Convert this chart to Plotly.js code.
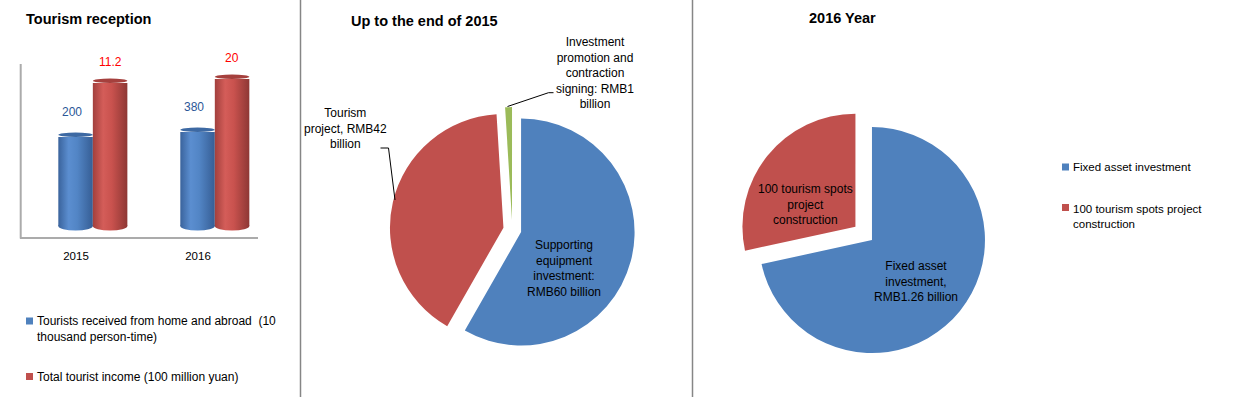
<!DOCTYPE html>
<html>
<head>
<meta charset="utf-8">
<script src="https://cdn.plot.ly/plotly-3.0.1.min.js"></script>
<style>
html,body{margin:0;padding:0;background:#fff;}
#chart{width:1239px;height:397px;}
</style>
</head>
<body>
<div id="chart"></div>
<script>
// ---------------- data ----------------
const years = ['2015', '2016'];
const touristsSeries = 'Tourists received from home and abroad  (10 thousand person-time)';
const incomeSeries = 'Total tourist income (100 million yuan)';
const tourists = [200, 380];      // 10 thousand person-time
const income = [11.2, 20];        // 100 million yuan

const invest2015Labels = ['Supporting equipment investment', 'Tourism project', 'Investment promotion and contraction signing'];
const invest2015Values = [60, 42, 1];   // RMB billion

const invest2016Labels = ['Fixed asset investment', '100 tourism spots project construction'];
const invest2016Values = [1.26, 0.5];   // RMB billion (second value)

const titles = ['Tourism reception', 'Up to the end of 2015', '2016 Year'];

// ---------------- helpers ----------------
const FONT = 'Liberation Sans, Arial, sans-serif';
const W = 1239, H = 397;
const px = v => v / W;
const py = v => 1 - v / H;
const blue = '#4F81BD', red = '#C0504D', green = '#9BBB59';

function wrap(text, maxChars) {
  const words = text.split(' ');
  const lines = [];
  let cur = '';
  words.forEach(w => {
    const cand = cur === '' ? w : cur + ' ' + w;
    if (cand.length > maxChars && cur !== '') { lines.push(cur); cur = w; }
    else cur = cand;
  });
  if (cur !== '') lines.push(cur);
  return lines.map(l => l.replace(/  /g, ' \u00a0')).join('<br>');
}
function pieDomain(cx, cy, r, pull) {
  const h = r * (1 + pull);
  return { x: [px(cx - h), px(cx + h)], y: [py(cy + h), py(cy - h)] };
}

// ---------------- left: cylinder bars ----------------
const barW = 0.283;
const offs = [-0.145, 0.138];
const xi = years.map((_, i) => i);
const series = [
  { name: touristsSeries, values: tourists, color: blue, cap: '#3D69A3', yref: 'y', labelColor: '#2B5797', dx: -4, dy: 25 },
  { name: incomeSeries, values: income, color: red, cap: '#A5403D', yref: 'y2', labelColor: '#FF0000', dx: 0, dy: 21 }
];

const traces = series.map((s, k) => ({
  type: 'bar', x: xi, y: s.values, width: barW, offset: offs[k], name: s.name,
  marker: { color: s.color, line: { width: 0 } },
  xaxis: 'x', yaxis: s.yref, hoverinfo: 'y+name', showlegend: false
}));

// ---------------- pies ----------------
const mid = { cx: 512.3, cy: 229.7, r: 113.5, pull: 0.08 };
const rgt = { cx: 863.7, cy: 233.4, r: 113, pull: 0.094 };

traces.push({
  type: 'pie', labels: invest2015Labels, values: invest2015Values, sort: false,
  direction: 'clockwise', rotation: 0, pull: mid.pull,
  marker: { colors: [blue, red, green], line: { width: 0 } },
  textinfo: 'none', hoverinfo: 'label+value', showlegend: false,
  domain: pieDomain(mid.cx, mid.cy, mid.r, mid.pull)
});
traces.push({
  type: 'pie', labels: invest2016Labels, values: invest2016Values, sort: false,
  direction: 'clockwise', rotation: 0, pull: rgt.pull,
  marker: { colors: [blue, red], line: { width: 0 } },
  textinfo: 'none', hoverinfo: 'label+value', showlegend: false,
  domain: pieDomain(rgt.cx, rgt.cy, rgt.r, rgt.pull)
});

// ---------------- shapes ----------------
const shapes = [];
// panel separators
[300.5, 692.5].forEach(x => shapes.push({ type: 'line', xref: 'paper', yref: 'paper', x0: px(x), x1: px(x), y0: 0, y1: 1, line: { color: '#868686', width: 1.5 } }));
// left chart frame (3D floor / wall edge)
shapes.push({ type: 'line', xref: 'paper', yref: 'paper', x0: px(20.7), x1: px(20.7), y0: py(64), y1: py(238.5), line: { color: '#ABABAB', width: 2 } });
shapes.push({ type: 'line', xref: 'paper', yref: 'paper', x0: px(20), x1: px(258), y0: py(238), y1: py(238), line: { color: '#ABABAB', width: 2 } });

const bottomIdx = [[], []];
series.forEach((s, k) => {
  s.values.forEach((v, i) => {
    // rounded base of cylinder
    bottomIdx[k].push(shapes.length);
    shapes.push({ type: 'circle', layer: 'below', xref: 'x', yref: 'y domain', x0: i + offs[k], x1: i + offs[k] + barW,
      ysizemode: 'pixel', yanchor: 0, y0: -4.5, y1: 4.5, fillcolor: s.color, line: { width: 0 } });
    // top cap of cylinder
    shapes.push({ type: 'circle', xref: 'x', yref: s.yref, x0: i + offs[k], x1: i + offs[k] + barW,
      ysizemode: 'pixel', yanchor: v, y0: -4.5, y1: 4.5, fillcolor: s.cap, line: { width: 0 } });
  });
});

// legend swatches
const legendSq = (cx, cy, color) => shapes.push({ type: 'rect', xref: 'paper', yref: 'paper',
  x0: px(cx - 3.5), x1: px(cx + 3.5), y0: py(cy + 3.5), y1: py(cy - 3.5), fillcolor: color, line: { width: 0 } });
legendSq(29.5, 321, blue);
legendSq(29.5, 376.5, red);
legendSq(1065.5, 167, blue);
legendSq(1065.5, 207.5, red);

// pie leader lines
shapes.push({ type: 'path', xref: 'paper', yref: 'paper',
  path: `M ${px(395)},${py(200)} L ${px(388.5)},${py(148)} L ${px(380.5)},${py(148)}`, line: { color: '#000', width: 1 } });
shapes.push({ type: 'path', xref: 'paper', yref: 'paper',
  path: `M ${px(507.5)},${py(106.5)} L ${px(548.5)},${py(92.7)} L ${px(553.5)},${py(92.7)}`, line: { color: '#000', width: 1 } });

// ---------------- annotations ----------------
const ann = [];
const txt = (x, y, text, opts = {}) => ann.push(Object.assign({
  xref: 'paper', yref: 'paper', x: px(x), y: py(y), text: text, showarrow: false,
  xanchor: 'center', yanchor: 'middle', align: 'center',
  font: { family: FONT, size: 12, color: '#000' }
}, opts));

// titles
const titleFont = { family: FONT, size: 14.5, color: '#000', weight: 700 };
txt(24, 19.5, titles[0], { xanchor: 'left', font: titleFont });
txt(349, 21, titles[1], { xanchor: 'left', font: titleFont });
txt(807, 18, titles[2], { xanchor: 'left', font: titleFont });

// bar value labels
series.forEach((s, k) => {
  s.values.forEach((v, i) => {
    ann.push({ xref: 'x', yref: s.yref, x: i + offs[k] + barW / 2, y: Math.log10(v), text: String(v),
      showarrow: false, xanchor: 'center', yanchor: 'middle', xshift: s.dx, yshift: s.dy,
      font: { family: FONT, size: 12, color: s.labelColor } });
  });
});

// left legend
const legFont = { family: FONT, size: 12, color: '#000' };
txt(35, 328.7, wrap(touristsSeries, 45), { xanchor: 'left', align: 'left', font: legFont });
txt(35, 377, wrap(incomeSeries, 45), { xanchor: 'left', align: 'left', font: legFont });

// middle pie labels
txt(564, 268.5, wrap(invest2015Labels[0] + ': RMB' + invest2015Values[0] + ' billion', 14));
txt(346, 128, wrap(invest2015Labels[1] + ', RMB' + invest2015Values[1] + ' billion', 14));
txt(595, 72.5, wrap(invest2015Labels[2] + ': RMB' + invest2015Values[2] + ' billion', 14));

// right pie labels
txt(916, 281, wrap(invest2016Labels[0] + ', RMB' + invest2016Values[0] + ' billion', 15));
txt(805, 204, wrap(invest2016Labels[1], 17));

// right legend
const legFont2 = { family: FONT, size: 11.5, color: '#000' };
txt(1071, 167, invest2016Labels[0], { xanchor: 'left', align: 'left', font: legFont2 });
txt(1071, 216, wrap(invest2016Labels[1], 28), { xanchor: 'left', align: 'left', font: legFont2 });

// ---------------- layout ----------------
const layout = {
  width: W, height: H,
  margin: { l: 0, r: 0, t: 0, b: 0, pad: 0 },
  paper_bgcolor: '#fff', plot_bgcolor: 'rgba(0,0,0,0)',
  showlegend: false, barmode: 'overlay',
  font: { family: FONT, size: 12, color: '#000' },
  xaxis: {
    domain: [px(21), px(258)], range: [-0.451, 1.492], tickvals: xi, ticktext: years,
    showgrid: false, zeroline: false, showline: false, ticks: 'outside', ticklen: 19,
    tickcolor: 'rgba(0,0,0,0)', tickfont: { family: FONT, size: 11.5, color: '#000' }, fixedrange: true
  },
  yaxis: { type: 'log', domain: [py(226), py(60)], range: [-2.660, 6.594], visible: false, fixedrange: true },
  yaxis2: { type: 'log', overlaying: 'y', range: [-7.953, 2.497], visible: false, fixedrange: true },
  shapes: shapes,
  annotations: ann
};

Plotly.newPlot('chart', traces, layout, { displayModeBar: false, staticPlot: true }).then(gd => {
  // cylinder shading
  const ns = 'http://www.w3.org/2000/svg';
  const svg = gd.querySelector('svg.main-svg');
  let defs = svg.querySelector('defs');
  if (!defs) { defs = document.createElementNS(ns, 'defs'); svg.insertBefore(defs, svg.firstChild); }
  const grads = [
    ['cylBlue', [[0, '#3A639C'], [0.3, '#5B8ED0'], [0.55, '#5285C5'], [1, '#365E95']]],
    ['cylRed', [[0, '#A2403D'], [0.3, '#D45D59'], [0.55, '#C9524E'], [1, '#8E3734']]]
  ];
  grads.forEach(([id, stops]) => {
    const g = document.createElementNS(ns, 'linearGradient');
    g.setAttribute('id', id); g.setAttribute('x1', '0'); g.setAttribute('x2', '1'); g.setAttribute('y1', '0'); g.setAttribute('y2', '0');
    stops.forEach(([o, c]) => {
      const st = document.createElementNS(ns, 'stop');
      st.setAttribute('offset', o); st.setAttribute('stop-color', c);
      g.appendChild(st);
    });
    defs.appendChild(g);
  });
  const ids = ['cylBlue', 'cylRed'];
  gd.querySelectorAll('.barlayer .trace').forEach((tr, k) => {
    tr.querySelectorAll('path').forEach(p => { p.style.fill = 'url(#' + ids[k] + ')'; });
  });
  gd.querySelectorAll('.shapelayer path[data-index]').forEach(p => {
    const idx = +p.getAttribute('data-index');
    bottomIdx.forEach((arr, k) => { if (arr.includes(idx)) p.style.fill = 'url(#' + ids[k] + ')'; });
  });
});
</script>
</body>
</html>
